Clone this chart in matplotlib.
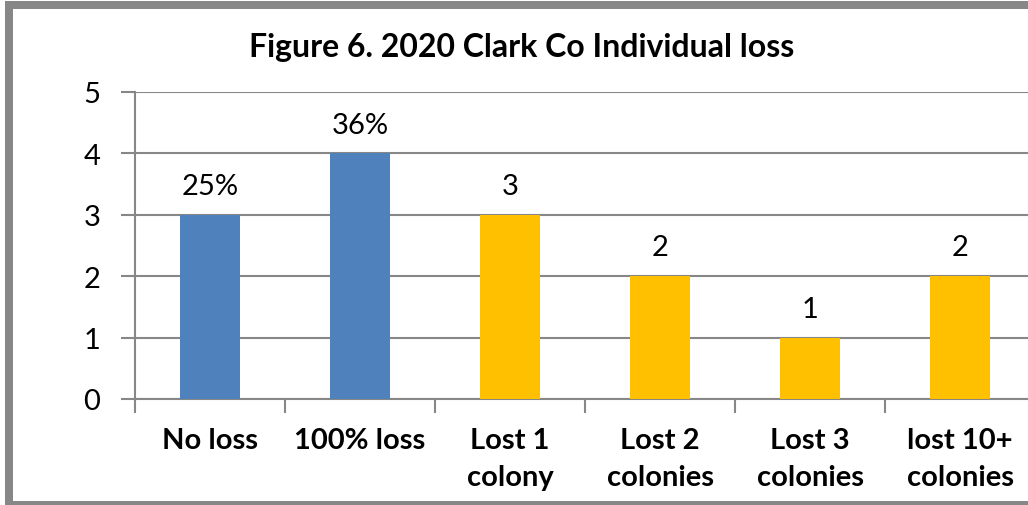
import matplotlib
matplotlib.use("Agg")
import matplotlib.pyplot as plt
from matplotlib.lines import Line2D
from matplotlib.ticker import FixedLocator

plt.rcParams['font.family'] = ['Lato', 'DejaVu Sans']

categories = ["No loss", "100% loss", "Lost 1\ncolony", "Lost 2\ncolonies",
              "Lost 3\ncolonies", "lost 10+\ncolonies"]
counts = [3, 4, 3, 2, 1, 2]
bar_labels = ["25%", "36%", "3", "2", "1", "2"]
bar_colors = ["#4F81BD", "#4F81BD", "#FFC000", "#FFC000", "#FFC000", "#FFC000"]

W, H = 1028, 506
fig = plt.figure(figsize=(W / 100, H / 100), dpi=100)

# plot area runs past the right edge of the canvas
ax = fig.add_axes([135 / W, (H - 400) / H, 900 / W, 307 / H])

x = range(len(categories))
bars = ax.bar(x, counts, width=0.4, color=bar_colors, zorder=3)

for b, lab in zip(bars, bar_labels):
    ax.annotate(lab, (b.get_x() + b.get_width() / 2, b.get_height()),
                xytext=(0, 15), textcoords="offset points",
                ha="center", va="baseline", fontsize=21)

grid_c = "#878787"
ax.set_xlim(-0.5, len(categories) - 0.5)
ax.set_ylim(0, 5)
ax.set_yticks(range(6))
ax.yaxis.grid(True, color=grid_c, linewidth=1.5, zorder=0)
ax.tick_params(axis="y", labelsize=21, length=10, width=1.5, color=grid_c, pad=15)

ax.set_xticks(list(x))
ax.set_xticklabels(categories, fontsize=21, fontweight="bold", linespacing=1.55)
ax.xaxis.set_minor_locator(FixedLocator([i - 0.5 for i in range(len(categories) + 1)]))
ax.tick_params(axis="x", which="major", length=0, pad=20)
ax.tick_params(axis="x", which="minor", length=10, width=1.5, color=grid_c)

for side in ("top", "right"):
    ax.spines[side].set_visible(False)
for side in ("left", "bottom"):
    ax.spines[side].set_color(grid_c)
    ax.spines[side].set_linewidth(1.5)

fig.text(522 / W, 1 - 47 / H, "Figure 6. 2020 Clark Co Individual loss",
         ha="center", va="center", fontsize=23, fontweight="bold")

# chart frame (left, top, bottom edges)
lw = 8 * 0.72
fx, fy_top, fy_bot = 9 / W, 1 - 5.5 / H, 1 - 506 / H
for xs, ys in [([fx, fx], [fy_bot, fy_top]),
               ([fx, 1.01], [fy_top, fy_top]),
               ([fx, 1.01], [fy_bot, fy_bot])]:
    fig.add_artist(Line2D(xs, ys, transform=fig.transFigure, color=grid_c,
                          linewidth=lw, solid_capstyle="projecting"))

fig.savefig("out.png", dpi=100, facecolor="white")
